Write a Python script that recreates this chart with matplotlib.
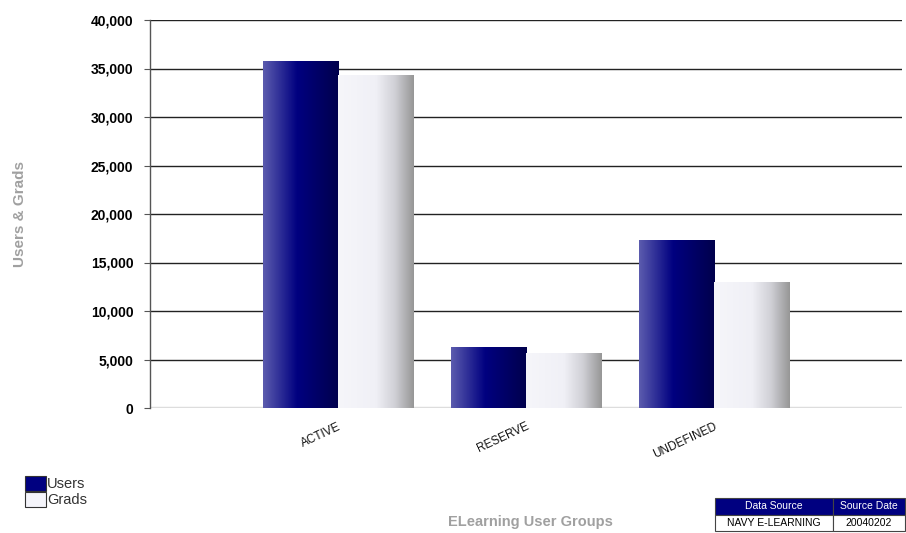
import matplotlib
matplotlib.use("Agg")
import matplotlib.pyplot as plt
import numpy as np
from matplotlib.colors import LinearSegmentedColormap
from matplotlib.patches import Patch

# chart data
groups = ["ACTIVE", "RESERVE", "UNDEFINED"]
users = [35750, 6280, 17300]
grads = [34300, 5600, 12900]
y_ticks = [0, 5000, 10000, 15000, 20000, 25000, 30000, 35000, 40000]
table_cols = ["Data Source", "Source Date"]
table_row = ["NAVY E-LEARNING", "20040202"]

plt.rcParams['font.family'] = ['Liberation Sans', 'DejaVu Sans']

W, H = 906, 533
fig = plt.figure(figsize=(W / 100, H / 100), dpi=100)
ax = fig.add_axes([150 / W, (H - 408) / H, 752 / W, 388 / H])

users_cmap = LinearSegmentedColormap.from_list(
    "users", [(0, "#5c5cae"), (0.45, "#000080"), (1, "#00004c")])
grads_cmap = LinearSegmentedColormap.from_list(
    "grads", [(0, "#f6f6fa"), (0.5, "#f0f0f6"), (0.75, "#d0d0d6"), (1, "#969696")])
grad = np.linspace(0, 1, 256).reshape(1, -1)

x = np.arange(1, len(groups) + 1)
bw = 0.4
b1 = ax.bar(x - bw / 2, users, bw, color="none", edgecolor="none", zorder=3)
b2 = ax.bar(x + bw / 2, grads, bw, color="none", edgecolor="none", zorder=3)

# paint a horizontal gradient inside every bar rectangle
for bars, cmap in [(b1, users_cmap), (b2, grads_cmap)]:
    for r in bars:
        x0, w, h = r.get_x(), r.get_width(), r.get_height()
        ax.imshow(grad, cmap=cmap, aspect="auto", extent=[x0, x0 + w, 0, h],
                  zorder=3, interpolation="bicubic")

ax.set_xlim(0, 4)
ax.set_ylim(0, 40000)

# gridlines
for yv in y_ticks[1:]:
    ax.axhline(yv, color="#222222", lw=1.0, zorder=1)
ax.axhline(0, color="#dddddd", lw=2.5, zorder=2)

for s in ["top", "right", "bottom"]:
    ax.spines[s].set_visible(False)
ax.spines["left"].set_color("#555555")
ax.spines["left"].set_linewidth(1.0)

ax.set_yticks(y_ticks)
ax.set_yticklabels([f"{v:,}" for v in y_ticks], fontsize=10, fontweight="bold")
ax.tick_params(axis="y", length=4, color="#555555", pad=8)

ax.set_xticks(x)
ax.set_xticklabels(groups, rotation=25, ha="right", rotation_mode="anchor",
                   fontsize=8.5, color="#111111")
ax.tick_params(axis="x", length=0, pad=9)

fig.text(20 / W, 1 - 214 / H, "Users & Grads", rotation=90, fontsize=11,
         fontweight="bold", color="#a0a0a0", ha="center", va="center")
fig.text(530 / W, 1 - 522 / H, "ELearning User Groups", fontsize=10.5,
         fontweight="bold", color="#a0a0a0", ha="center", va="center")

handles = [Patch(facecolor="#000080", edgecolor="#333333", lw=0.8),
           Patch(facecolor="#f4f4fa", edgecolor="#333333", lw=0.8)]
leg = fig.legend(handles, ["Users", "Grads"], loc="upper left",
                 bbox_to_anchor=(15 / W, 1 - 466 / H), frameon=False, fontsize=10.5,
                 handlelength=1.4, handleheight=1.15, handletextpad=0.1,
                 labelspacing=0.05, borderpad=0.2)
for t in leg.get_texts():
    t.set_color("#333333")

# source table
tax = fig.add_axes([715 / W, (H - 531) / H, 190 / W, 33 / H])
tax.axis("off")
tab = tax.table(cellText=[table_row], colLabels=table_cols, bbox=[0, 0, 1, 1],
                cellLoc="center", colWidths=[117, 72])
tab.auto_set_font_size(False)
for (r, c), cell in tab.get_celld().items():
    cell.set_edgecolor("#444444")
    cell.set_linewidth(0.8)
    cell.get_text().set_fontsize(7.5)
    if r == 0:
        cell.set_facecolor("#000080")
        cell.get_text().set_color("white")
    else:
        cell.set_facecolor("white")

fig.savefig("out.png", dpi=100)
